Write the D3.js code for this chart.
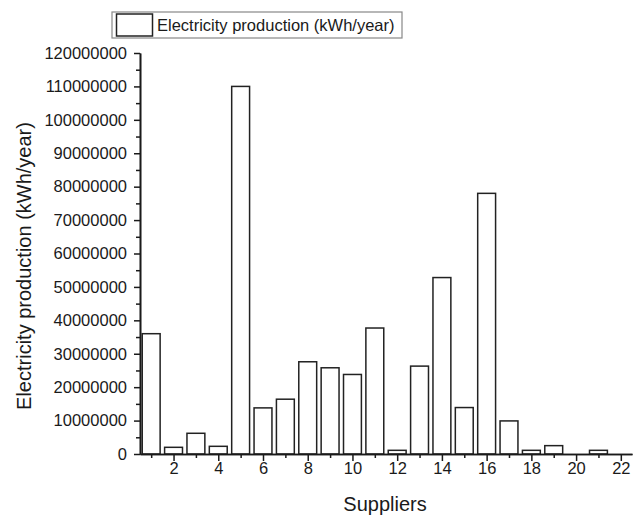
<!DOCTYPE html>
<html lang="en">
	<head>
		<meta charset="utf-8">
		<title>Electricity production by supplier</title>
		<script type="text/javascript" src="https://d3js.org/d3.v7.min.js"></script>
		<style type="text/css">
			body { margin: 0; background: #fff; }
			text { font-family: "Liberation Sans", Arial, sans-serif; fill: #1a1a1a; }
		</style>
	</head>
	<body>
		<script type="text/javascript">

			//Data
			var suppliers = d3.range(1, 23);
			var production = [36000000, 2000000, 6200000, 2300000, 110000000, 13800000, 16400000,
				27600000, 25800000, 23800000, 37700000, 1100000, 26300000, 52800000, 13900000,
				78000000, 9900000, 1100000, 2500000, 0, 1100000, 0];
			var xTicks = [2, 4, 6, 8, 10, 12, 14, 16, 18, 20, 22];
			var yTicks = d3.range(0, 120000001, 10000000);

			//Width and height
			var w = 640;
			var h = 518;
			var plotL = 140, plotR = 632, plotT = 53, plotB = 454;

			var svg = d3.select("body")
				.append("svg")
				.attr("width", w)
				.attr("height", h);

			//Scales
			var x = d3.scaleLinear().domain([0.5, 22.5]).range([plotL, plotR]);
			var y = d3.scaleLinear().domain([0, 120000000]).range([plotB, plotT]);
			var barW = (x(1) - x(0)) * 0.8;

			//Bars
			svg.selectAll("rect.bar")
				.data(suppliers.filter(function(d, i) { return production[i] > 0; }))
				.enter()
				.append("rect")
				.attr("class", "bar")
				.attr("x", function(d) { return x(d) - barW / 2; })
				.attr("y", function(d) { return y(production[d - 1]); })
				.attr("width", barW)
				.attr("height", function(d) { return plotB - y(production[d - 1]); })
				.attr("fill", "#fff")
				.attr("stroke", "#222")
				.attr("stroke-width", 1.5);

			//Axes: minor ticks first, then major ticks with labels
			var gx = svg.append("g").attr("transform", "translate(0," + plotB + ")");
			gx.append("g").call(d3.axisBottom(x).tickValues(d3.range(1, 23, 2)).tickSize(4).tickFormat("").tickSizeOuter(0));
			gx.append("g").call(d3.axisBottom(x).tickValues(xTicks).tickSize(7).tickFormat(d3.format("d")).tickSizeOuter(0));
			gx.selectAll("text").attr("y", 8).attr("dy", "0.71em").style("font-size", "16.5px");

			var gy = svg.append("g").attr("transform", "translate(" + plotL + ",0)");
			gy.append("g").call(d3.axisLeft(y).tickValues(d3.range(5000000, 120000000, 10000000)).tickSize(4).tickFormat("").tickSizeOuter(0));
			gy.append("g").call(d3.axisLeft(y).tickValues(yTicks).tickSize(6).tickFormat(d3.format("d")).tickSizeOuter(0));
			gy.selectAll("text").attr("x", -13).style("font-size", "16.5px");

			svg.selectAll(".domain").attr("stroke", "#1a1a1a").attr("stroke-width", 1.6);
			svg.selectAll(".tick line").attr("stroke", "#1a1a1a").attr("stroke-width", 1.5);

			//Axis titles
			svg.append("text")
				.attr("x", 385)
				.attr("y", 511)
				.attr("text-anchor", "middle")
				.style("font-size", "20px")
				.text("Suppliers");

			svg.append("text")
				.attr("transform", "translate(31,266) rotate(-90)")
				.attr("text-anchor", "middle")
				.style("font-size", "20px")
				.text("Electricity production (kWh/year)");

			//Legend
			svg.append("rect")
				.attr("x", 112).attr("y", 12).attr("width", 290).attr("height", 26)
				.attr("fill", "#fff").attr("stroke", "#888").attr("stroke-width", 1.2);
			svg.append("rect")
				.attr("x", 116.5).attr("y", 14).attr("width", 36).attr("height", 22)
				.attr("fill", "#fff").attr("stroke", "#222").attr("stroke-width", 1.5);
			svg.append("text")
				.attr("x", 157).attr("y", 31)
				.style("font-size", "16.5px")
				.text("Electricity production (kWh/year)");

		</script>
	</body>
</html>
